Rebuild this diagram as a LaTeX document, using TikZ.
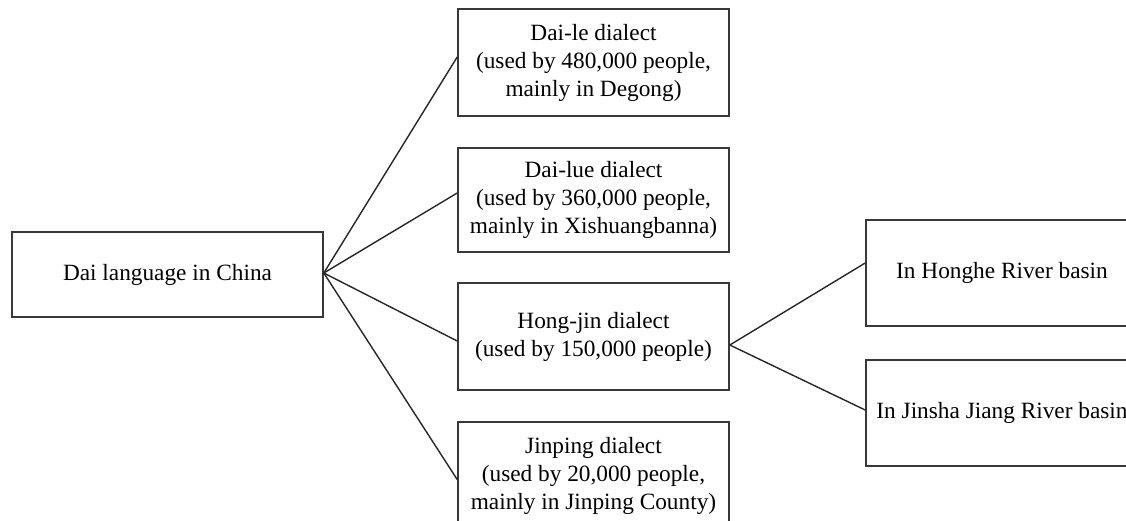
\documentclass[tikz,border=0pt]{standalone}
\usepackage{fontspec}
\setmainfont{Liberation Serif}
\begin{document}
\begin{tikzpicture}[x=1pt,y=-1pt,
  box/.style={draw=black!78, line width=1.6pt, fill=white, align=center, inner sep=0pt,
    font=\fontsize{23.3}{28}\selectfont},
  conn/.style={draw=black!85, line width=1.4pt}]
\useasboundingbox (0,0) rectangle (1126,520);
\clip (0,0) rectangle (1126,520);
\node[box, minimum width=311pt, minimum height=85pt] (root) at (167.5,274.5) {Dai language in China};
\node[box, minimum width=271pt, minimum height=107pt] (b1) at (593.5,62.5) {Dai-le dialect\\(used by 480,000 people,\\mainly in Degong)};
\node[box, minimum width=271pt, minimum height=104pt] (b2) at (593.5,200) {Dai-lue dialect\\(used by 360,000 people,\\mainly in Xishuangbanna)};
\node[box, minimum width=271pt, minimum height=107pt] (b3) at (593.5,336.5) {Hong-jin dialect\\(used by 150,000 people)};
\node[box, minimum width=271pt, minimum height=107pt] (b4) at (593.5,475.5) {Jinping dialect\\(used by 20,000 people,\\mainly in Jinping County)};
\node[box, minimum width=272pt, minimum height=106pt] (b5) at (1002,273) {In Honghe River basin};
\node[box, minimum width=272pt, minimum height=106pt] (b6) at (1002,413) {In Jinsha Jiang River basin};
\draw[conn] ([yshift=1.5pt]root.east) -- ([yshift=5.5pt]b1.west);
\draw[conn] ([yshift=1.5pt]root.east) -- ([yshift=7pt]b2.west);
\draw[conn] ([yshift=1.5pt]root.east) -- ([yshift=-4.5pt]b3.west);
\draw[conn] ([yshift=1.5pt]root.east) -- ([yshift=-4pt]b4.west);
\draw[conn] ([yshift=-8.5pt]b3.east) -- ([yshift=10pt]b5.west);
\draw[conn] ([yshift=-8.5pt]b3.east) -- ([yshift=3pt]b6.west);
\end{tikzpicture}
\end{document}
